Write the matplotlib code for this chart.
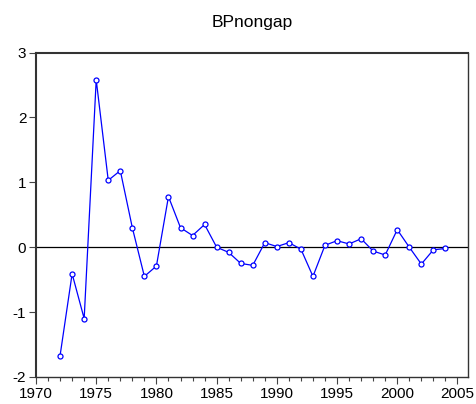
import matplotlib
matplotlib.use("Agg")
import matplotlib.pyplot as plt
from matplotlib.ticker import MultipleLocator

plt.rcParams['font.family'] = ['Liberation Sans', 'DejaVu Sans']
plt.rcParams['axes.unicode_minus'] = False

years = list(range(1972, 2005))
values = [-1.67, -0.41, -1.10, 2.58, 1.03, 1.18, 0.30, -0.45, -0.29, 0.78,
          0.30, 0.18, 0.35, 0.00, -0.08, -0.25, -0.28, 0.07, 0.01, 0.07,
          -0.03, -0.45, 0.03, 0.10, 0.05, 0.13, -0.06, -0.12, 0.27, 0.00,
          -0.26, -0.04, -0.02]
title = "BPnongap"
yticks = [-2, -1, 0, 1, 2, 3]
xticks = [1970, 1975, 1980, 1985, 1990, 1995, 2000, 2005]

fig = plt.figure(figsize=(4.76, 4.04), dpi=100)
ax = fig.add_axes([36/476, 1-377/404, (468.3-36)/476, (377-52.5)/404])

ax.axhline(0, color='black', lw=0.9, zorder=1)
ax.plot(years, values, color='#0000ff', lw=0.9, marker='o', markersize=3.6,
        markerfacecolor='white', markeredgecolor='#0000ff', markeredgewidth=0.9, zorder=3)

ax.set_xlim(1970, 2005.9)
ax.set_ylim(-2, 3)
ax.set_yticks(yticks)
ax.set_xticks(xticks)
ax.xaxis.set_minor_locator(MultipleLocator(1))
ax.tick_params(axis='both', which='major', direction='out', length=5, width=0.8,
               labelsize=11, color='#444444', pad=2)
ax.tick_params(axis='x', which='minor', direction='out', length=3, width=0.8, color='#444444')
for s in ax.spines.values():
    s.set_color('#333333')
    s.set_linewidth(1.0)
ax.spines['left'].set_linewidth(1.5)
ax.spines['top'].set_linewidth(1.5)
ax.set_title(title, fontsize=12.5, pad=18)

fig.savefig('out.png', dpi=100)
